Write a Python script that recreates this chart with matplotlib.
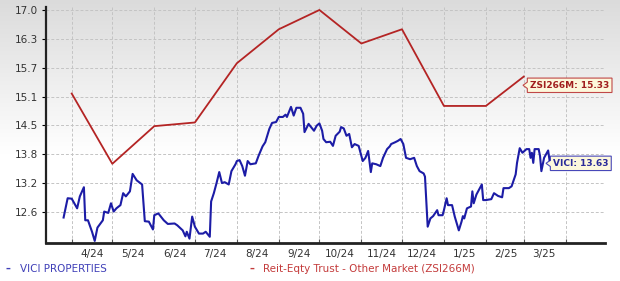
import matplotlib
matplotlib.use("Agg")
import matplotlib.pyplot as plt
import matplotlib.dates as mdates
from matplotlib.path import Path
import numpy as np
import pandas as pd

# VICI daily closes (sampled)
vici_dates = [
    "2024-03-26", "2024-03-29", "2024-04-01", "2024-04-05", "2024-04-07", "2024-04-10", "2024-04-11", "2024-04-13",
    "2024-04-16", "2024-04-18", "2024-04-20", "2024-04-24", "2024-04-25", "2024-04-28", "2024-04-30",
    "2024-05-02", "2024-05-04", "2024-05-07", "2024-05-09", "2024-05-11", "2024-05-14", "2024-05-16", "2024-05-19",
    "2024-05-23", "2024-05-25", "2024-05-28", "2024-05-31",
    "2024-06-01", "2024-06-04", "2024-06-08", "2024-06-11", "2024-06-16", "2024-06-18", "2024-06-22", "2024-06-24",
    "2024-06-25", "2024-06-27", "2024-06-29",
    "2024-07-01", "2024-07-04", "2024-07-07", "2024-07-09", "2024-07-12", "2024-07-13", "2024-07-15", "2024-07-17",
    "2024-07-19", "2024-07-21", "2024-07-23", "2024-07-26", "2024-07-28", "2024-07-31",
    "2024-08-01", "2024-08-03", "2024-08-05", "2024-08-07", "2024-08-09", "2024-08-11", "2024-08-15", "2024-08-17",
    "2024-08-20", "2024-08-22", "2024-08-25", "2024-08-27", "2024-08-30",
    "2024-09-01", "2024-09-04", "2024-09-06", "2024-09-07", "2024-09-10", "2024-09-12", "2024-09-14", "2024-09-17",
    "2024-09-19", "2024-09-20", "2024-09-23", "2024-09-24", "2024-09-27", "2024-09-29",
    "2024-10-01", "2024-10-03", "2024-10-04", "2024-10-06", "2024-10-09", "2024-10-11", "2024-10-13", "2024-10-16",
    "2024-10-17", "2024-10-19", "2024-10-21", "2024-10-23", "2024-10-25", "2024-10-27", "2024-10-30", "2024-10-31",
    "2024-11-02", "2024-11-04", "2024-11-06", "2024-11-08", "2024-11-09", "2024-11-12", "2024-11-15", "2024-11-17",
    "2024-11-20", "2024-11-22", "2024-11-23", "2024-11-26", "2024-11-28", "2024-11-30",
    "2024-12-02", "2024-12-04", "2024-12-07", "2024-12-10", "2024-12-12", "2024-12-14", "2024-12-17", "2024-12-18",
    "2024-12-20", "2024-12-22", "2024-12-24", "2024-12-27", "2024-12-28", "2024-12-31",
    "2025-01-01", "2025-01-03", "2025-01-04", "2025-01-07", "2025-01-09", "2025-01-12", "2025-01-14", "2025-01-15",
    "2025-01-16", "2025-01-18", "2025-01-21", "2025-01-22", "2025-01-23", "2025-01-25", "2025-01-27", "2025-01-29",
    "2025-01-30",
    "2025-02-01", "2025-02-05", "2025-02-07", "2025-02-10", "2025-02-13", "2025-02-14", "2025-02-18", "2025-02-20",
    "2025-02-23", "2025-02-24", "2025-02-26", "2025-02-28",
    "2025-03-03", "2025-03-05", "2025-03-06", "2025-03-07", "2025-03-08", "2025-03-09", "2025-03-12", "2025-03-13",
    "2025-03-14", "2025-03-16", "2025-03-18", "2025-03-19", "2025-03-20",
]
vici_values = [
    12.45, 12.87, 12.86, 12.65, 12.91, 13.11, 12.39, 12.39, 12.14, 11.94, 12.23, 12.39, 12.58, 12.55, 12.76,
    12.58, 12.65, 12.72, 12.98, 12.91, 13.02, 13.40, 13.26, 13.17, 12.37, 12.36, 12.19,
    12.50, 12.54, 12.39, 12.31, 12.32, 12.28, 12.17, 12.04, 12.14, 11.99, 12.47,
    12.25, 12.10, 12.10, 12.14, 12.03, 12.80, 12.98, 13.20, 13.44, 13.20, 13.22, 13.17, 13.46, 13.61,
    13.68, 13.70, 13.57, 13.36, 13.68, 13.61, 13.63, 13.79, 14.00, 14.09, 14.38, 14.51, 14.53,
    14.64, 14.64, 14.69, 14.64, 14.86, 14.67, 14.84, 14.84, 14.71, 14.31, 14.49, 14.45, 14.34, 14.45,
    14.50, 14.34, 14.16, 14.09, 14.10, 14.01, 14.23, 14.32, 14.42, 14.39, 14.23, 14.27, 13.98, 14.05, 14.01, 13.90,
    13.68, 13.75, 13.90, 13.44, 13.63, 13.61, 13.57, 13.75, 13.94, 14.00, 14.05, 14.09, 14.12, 14.16,
    14.05, 13.75, 13.72, 13.75, 13.57, 13.46, 13.41, 13.34, 12.25, 12.43, 12.48, 12.61, 12.50, 12.50,
    12.61, 12.87, 12.72, 12.72, 12.47, 12.17, 12.36, 12.48, 12.43, 12.65, 12.69, 13.02, 12.76, 12.95, 13.06, 13.17,
    12.83,
    12.83, 12.85, 12.98, 12.92, 12.89, 13.09, 13.09, 13.13, 13.39, 13.64, 13.96, 13.86,
    13.94, 13.94, 13.75, 13.86, 13.64, 13.94, 13.94, 13.79, 13.46, 13.75, 13.86, 13.91, 13.70,
]

# industry index, monthly
zsi_dates = [
    "2024-04-01", "2024-05-01", "2024-06-01", "2024-07-01", "2024-08-01", "2024-09-01",
    "2024-10-01", "2024-11-01", "2024-12-01", "2025-01-01", "2025-02-01", "2025-03-01",
]
zsi_values = [15.15, 13.62, 14.44, 14.52, 15.81, 16.55, 16.97, 16.24, 16.55, 14.88, 14.88, 15.52]

ytick_values = [12.57, 13.20, 13.83, 14.46, 15.08, 15.71, 16.34, 16.97]
ytick_labels = ["12.6", "13.2", "13.8", "14.5", "15.1", "15.7", "16.3", "17.0"]

month_label_dates = [
    "2024-04-16", "2024-05-16", "2024-06-16", "2024-07-16", "2024-08-16", "2024-09-16",
    "2024-10-16", "2024-11-16", "2024-12-16", "2025-01-16", "2025-02-16", "2025-03-16",
]
month_labels = ["4/24", "5/24", "6/24", "7/24", "8/24", "9/24",
                "10/24", "11/24", "12/24", "1/25", "2/25", "3/25"]

BLUE = "#1c1ca6"
RED = "#b42424"


def tag_box(x0, y0, width, height, mutation_size):
    # price tag: rectangle with a small notch pointing left
    pad = 0.3 * mutation_size
    x0, y0 = x0 - pad, y0 - pad
    width, height = width + 2 * pad, height + 2 * pad
    notch = 0.3 * height
    verts = [
        (x0, y0), (x0 + width, y0), (x0 + width, y0 + height), (x0, y0 + height),
        (x0, y0 + 0.72 * height), (x0 - notch, y0 + 0.5 * height), (x0, y0 + 0.28 * height),
        (x0, y0),
    ]
    return Path(verts, closed=True)


fig = plt.figure(figsize=(6.2, 2.81), dpi=100)

# grey-to-white background
bg = fig.add_axes([0, 0, 1, 1], zorder=-10)
rows = np.linspace(0, 1, 281)
shade = np.clip(0.86 + 0.14 * rows / 0.55, 0, 1)
bg.imshow(np.dstack([shade, shade, shade]).reshape(281, 1, 3), aspect="auto", extent=[0, 1, 0, 1])
bg.axis("off")

ax = fig.add_axes([46 / 620, 1 - 243 / 281, 559 / 620, 236 / 281])
ax.patch.set_alpha(0)

ax.plot(pd.to_datetime(zsi_dates), zsi_values, color=RED, lw=1.3, zorder=3)
ax.plot(pd.to_datetime(vici_dates), vici_values, color=BLUE, lw=1.5, zorder=4)

ax.set_xlim(pd.Timestamp("2024-03-13"), pd.Timestamp("2025-04-30"))
ax.set_ylim(11.895, 17.035)

ax.xaxis.set_major_locator(mdates.MonthLocator())
ax.xaxis.set_major_formatter(plt.NullFormatter())
ax.set_xticks(pd.to_datetime(month_label_dates), month_labels, minor=True)
ax.set_yticks(ytick_values, ytick_labels)

ax.grid(True, which="major", color="#c4c4c4", linestyle=(0, (3, 2)), lw=0.7)
ax.tick_params(axis="x", which="major", length=3, direction="in", color="#555555")
ax.tick_params(axis="x", which="minor", length=0, labelsize=7.5, labelcolor="#333333", pad=4)
ax.tick_params(axis="y", length=3, labelsize=7.5, labelcolor="#333333", pad=3)

for side in ("top", "right"):
    ax.spines[side].set_visible(False)
ax.spines["left"].set_linewidth(1.6)
ax.spines["left"].set_color("#222222")
ax.spines["bottom"].set_linewidth(2.0)
ax.spines["bottom"].set_color("#222222")

ax.annotate("ZSI266M: 15.33", xy=(pd.Timestamp("2025-03-01"), 15.33), xytext=(4.5, 0),
            textcoords="offset points", ha="left", va="center", fontsize=6.5,
            fontweight="bold", color="#a01e1e",
            bbox=dict(boxstyle=tag_box, fc="#fdf8dc", ec="#c04848", lw=0.8))
ax.annotate("VICI: 13.63", xy=(pd.Timestamp("2025-03-18"), 13.63), xytext=(4.5, 0),
            textcoords="offset points", ha="left", va="center", fontsize=6.5,
            fontweight="bold", color="#2a2a9a",
            bbox=dict(boxstyle=tag_box, fc="#fdf8dc", ec="#4848b8", lw=0.8))

legend_y = 1 - 269 / 281
fig.text(6 / 620, legend_y, "–", color="#4040b8", fontsize=7, fontweight="bold", va="center")
fig.text(20 / 620, legend_y, "VICI PROPERTIES", color="#4040b8", fontsize=7.5, va="center")
fig.text(249 / 620, legend_y, "–", color="#c43c3c", fontsize=7, fontweight="bold", va="center")
fig.text(263 / 620, legend_y, "Reit-Eqty Trust - Other Market (ZSI266M)", color="#c43c3c",
         fontsize=7.5, va="center")

fig.savefig("out.png", dpi=100)
